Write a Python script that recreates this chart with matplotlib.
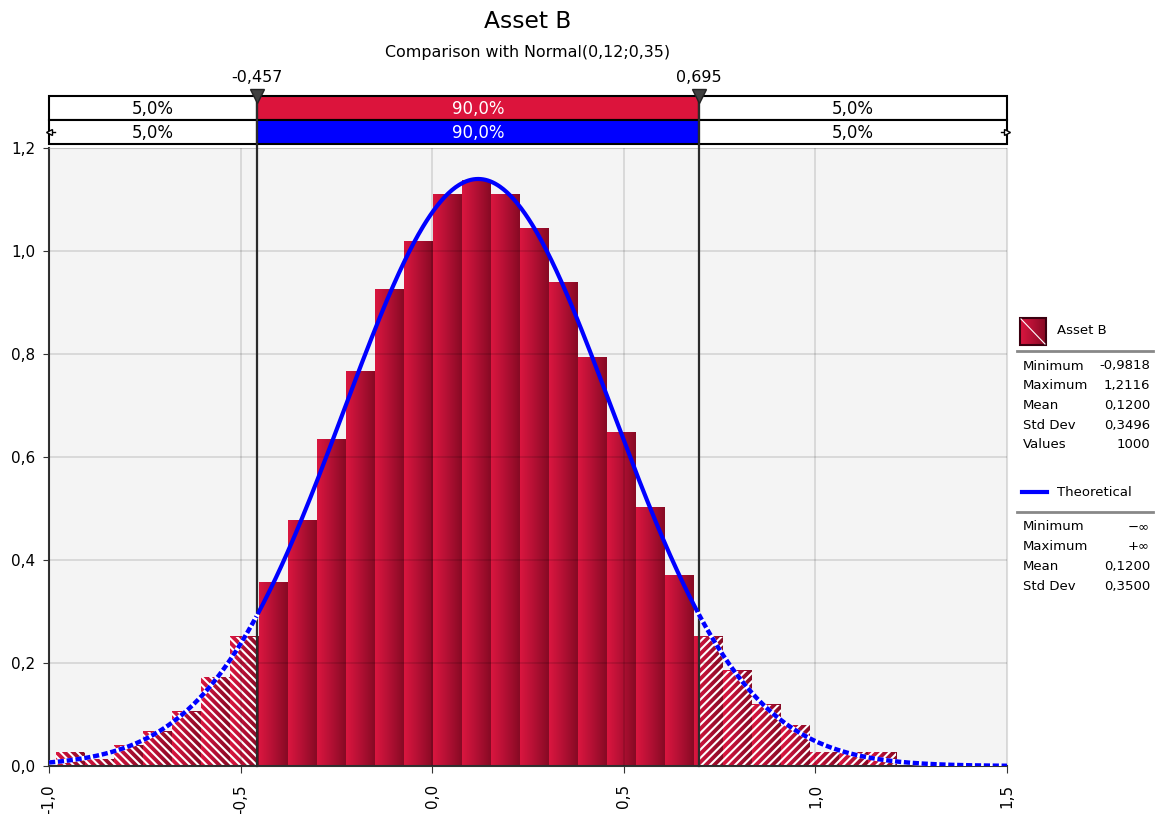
import numpy as np
import matplotlib
matplotlib.use('Agg')
import matplotlib.pyplot as plt
from matplotlib.colors import LinearSegmentedColormap
from matplotlib.patches import Rectangle
from matplotlib.ticker import FuncFormatter

plt.rcParams['font.family'] = ['DejaVu Sans']

## --- Data --- ##
bin_counts = [2, 1, 3, 5, 8, 13, 19, 27, 36, 48, 58, 70, 77, 84, 86,
              84, 79, 71, 60, 49, 38, 28, 19, 14, 9, 6, 2, 2, 2]
sample_min = -0.9818
sample_max = 1.2116
n_values = 1000

normal_mean = 0.12
normal_std = 0.35

p_low = -0.457
p_high = 0.695
band_pcts = [5.0, 90.0, 5.0]   # left / middle / right

stat_names = ['Minimum', 'Maximum', 'Mean', 'Std Dev', 'Values']
stat_values = ['-0,9818', '1,2116', '0,1200', '0,3496', '1000']
theo_names = ['Minimum', 'Maximum', 'Mean', 'Std Dev']
theo_values = ['\u2212\u221e', '+\u221e', '0,1200', '0,3500']

x_ticks = [-1.0, -0.5, 0.0, 0.5, 1.0, 1.5]
y_ticks = [0.0, 0.2, 0.4, 0.6, 0.8, 1.0, 1.2]


def comma(v, d=1):
    return f"{v:.{d}f}".replace('.', ',')


## --- Figure --- ##
W, H = 1160, 814
fig = plt.figure(figsize=(W / 100, H / 100), dpi=100)

L, R, T, B = 49, 1007, 148, 766
ax = fig.add_axes([L / W, 1 - B / H, (R - L) / W, (B - T) / H])
ax.set_facecolor('#F4F4F4')

# histogram bars with a left-to-right gradient
nbins = len(bin_counts)
edges = np.linspace(sample_min, sample_max, nbins + 1)
width = edges[1] - edges[0]
heights = np.array(bin_counts) / (n_values * width)

bar_cmap = LinearSegmentedColormap.from_list('bar', ['#DA163F', '#B31034', '#870A24'])
grad = np.linspace(0, 1, 64).reshape(1, -1)
plt.rcParams['hatch.linewidth'] = 1.5
for x0, x1, h in zip(edges[:-1], edges[1:], heights):
    ax.imshow(grad, extent=[x0, x1, 0, h], cmap=bar_cmap, aspect='auto',
              interpolation='bilinear', zorder=1)
    # hatch the tail parts (outside the 90% interval)
    if x0 < p_low:
        ax.add_patch(Rectangle((x0, 0), min(x1, p_low) - x0, h, facecolor='none',
                               edgecolor='white', hatch='\\\\\\\\', lw=0, zorder=1.5))
    if x1 > p_high:
        hx = max(x0, p_high)
        ax.add_patch(Rectangle((hx, 0), x1 - hx, h, facecolor='none',
                               edgecolor='white', hatch='////', lw=0, zorder=1.5))

ax.set_xlim(-1.0, 1.5)
ax.set_ylim(0, 1.2)

ax.set_xticks(x_ticks)
ax.set_yticks(y_ticks)
ax.xaxis.set_major_formatter(FuncFormatter(lambda v, p: comma(v)))
ax.yaxis.set_major_formatter(FuncFormatter(lambda v, p: comma(v)))
ax.tick_params(axis='x', labelrotation=90, labelsize=11, length=5, color='#333333', pad=8)
ax.tick_params(axis='y', labelsize=11, length=4, color='#333333', pad=6)
# grid drawn over the bars (semi-transparent)
ax.set_axisbelow(False)
ax.grid(True)
ax.tick_params(which='both', grid_color='black', grid_alpha=0.12, grid_linewidth=1.3)
for s in ['left', 'bottom']:
    ax.spines[s].set_color('#333333')
    ax.spines[s].set_linewidth(1.5)
for s in ['top', 'right']:
    ax.spines[s].set_color('#DDDDDD')

# theoretical normal curve
xs = np.linspace(-1.0, 1.5, 800)
pdf = np.exp(-0.5 * ((xs - normal_mean) / normal_std) ** 2) / (normal_std * np.sqrt(2 * np.pi))
mid = (xs >= p_low) & (xs <= p_high)
ax.plot(xs[mid], pdf[mid], color='#0000FF', lw=3, zorder=5, solid_capstyle='butt')
for m in [xs <= p_low, xs >= p_high]:
    ax.plot(xs[m], pdf[m], color='white', lw=3.2, zorder=5)
    ax.plot(xs[m], pdf[m], color='#0000FF', lw=3.2, zorder=5.1,
            dashes=(1.4, 0.6), dash_capstyle='butt')

# percentile lines
for p in [p_low, p_high]:
    ax.plot([p, p], [0, 1.21], color='#2B2B2B', lw=1.6, zorder=4, clip_on=False)

## --- Percentile band on top --- ##
bt, bb = 96, 144
bax = fig.add_axes([L / W, 1 - bb / H, (R - L) / W, (bb - bt) / H])
bax.set_xlim(-1.0, 1.5)
bax.set_ylim(0, 2)
bax.axis('off')
segs = [(-1.0, p_low), (p_low, p_high), (p_high, 1.5)]
row_colors = [['white', '#DC143C', 'white'], ['white', '#0000FF', 'white']]
for r, yb in enumerate([1, 0]):
    for (a, b), c, pct in zip(segs, row_colors[r], band_pcts):
        bax.add_patch(Rectangle((a, yb), b - a, 1, facecolor=c, edgecolor='black',
                                lw=1.5, clip_on=False))
        bax.text((a + b) / 2, yb + 0.45, comma(pct) + '%', ha='center', va='center',
                 fontsize=12, color='white' if c != 'white' else 'black')
for p in [p_low, p_high]:
    bax.plot([p, p], [0, 2], color='#2B2B2B', lw=1.6, clip_on=False)
    bax.plot(p, 2.0, marker='v', ms=10, color='#404040', mec='#222222', clip_on=False, zorder=6)
    bax.annotate(f"{p:.3f}".replace('.', ','), (p, 2.0), xytext=(0, 8),
                 textcoords='offset points', ha='center', va='bottom', fontsize=11.5)
# little arrows at the ends of the second row
bax.plot([-1.0, -0.985], [0.5, 0.5], color='black', lw=1, clip_on=False)
bax.plot(-1.0, 0.5, marker='<', ms=5, mfc='white', mec='black', clip_on=False)
bax.plot([1.485, 1.5], [0.5, 0.5], color='black', lw=1, clip_on=False)
bax.plot(1.5, 0.5, marker='>', ms=5, mfc='white', mec='black', clip_on=False)

## --- Overlay for titles and legend (pixel coords) --- ##
ov = fig.add_axes([0, 0, 1, 1], zorder=10)
ov.patch.set_alpha(0)

ov.text((L + R) / 2, 22, 'Asset B', ha='center', va='center', fontsize=16.8)
ov.text((L + R) / 2, 53, 'Comparison with Normal(0,12;0,35)', ha='center', va='center',
        fontsize=11.4)

# legend swatch
ov.imshow(grad, extent=[1020, 1046, 345, 318], cmap=bar_cmap, aspect='auto',
          interpolation='bilinear')
ov.add_patch(Rectangle((1020, 318), 26, 27, fill=False, edgecolor='#3A0010', lw=1.5))
ov.plot([1021, 1045], [319, 344], color='white', lw=0.8)

ov.text(1057, 331, 'Asset B', ha='left', va='center', fontsize=9.5)
ov.plot([1017, 1153], [351, 351], color='#888888', lw=2)
for i, (nm, v) in enumerate(zip(stat_names, stat_values)):
    yy = 366 + i * 19.7
    ov.text(1023, yy, nm, ha='left', va='center', fontsize=9.5)
    ov.text(1150, yy, v, ha='right', va='center', fontsize=9.5)

ov.plot([1022, 1047], [492, 492], color='#0000FF', lw=3)
ov.text(1057, 492, 'Theoretical', ha='left', va='center', fontsize=9.5)
ov.plot([1017, 1153], [512, 512], color='#888888', lw=2)
for i, (nm, v) in enumerate(zip(theo_names, theo_values)):
    yy = 527 + i * 19.7
    ov.text(1023, yy, nm, ha='left', va='center', fontsize=9.5)
    ov.text(1150, yy, v, ha='right', va='center', fontsize=9.5)

ov.set_xlim(0, W)
ov.set_ylim(H, 0)
ov.axis('off')

fig.savefig('out.png', dpi=100)
